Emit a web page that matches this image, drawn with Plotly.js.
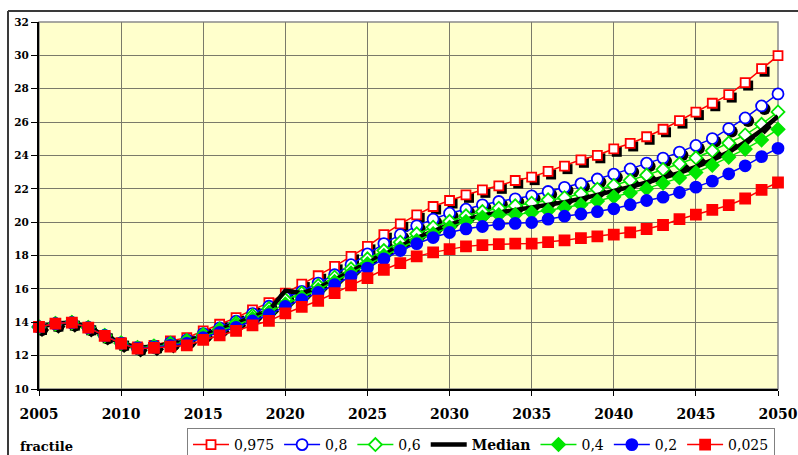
<!DOCTYPE html>
<html><head><meta charset="utf-8">
<script src="https://cdn.plot.ly/plotly-3.0.1.min.js"></script>
<style>html,body{margin:0;padding:0;background:#fff}#chart{width:798px;height:455px}</style>
</head><body><div id="chart"></div>
<script>
const years = [2005,2006,2007,2008,2009,2010,2011,2012,2013,2014,2015,2016,2017,2018,2019,2020,2021,2022,2023,2024,2025,2026,2027,2028,2029,2030,2031,2032,2033,2034,2035,2036,2037,2038,2039,2040,2041,2042,2043,2044,2045,2046,2047,2048,2049,2050];
const xTickVals = [2005,2010,2015,2020,2025,2030,2035,2040,2045,2050];
const yTickVals = [10,12,14,16,18,20,22,24,26,28,30,32];

const p975 = [13.72,13.92,13.98,13.70,13.22,12.78,12.52,12.62,12.88,13.08,13.48,13.88,14.28,14.74,15.18,15.75,16.29,16.79,17.35,17.95,18.55,19.25,19.90,20.44,20.94,21.30,21.64,21.94,22.18,22.50,22.70,23.04,23.36,23.74,24.01,24.40,24.72,25.12,25.57,26.09,26.60,27.13,27.65,28.37,29.20,29.98];
const p80 = [13.72,13.92,13.98,13.70,13.21,12.77,12.50,12.59,12.78,12.95,13.32,13.67,14.06,14.52,14.96,15.50,15.85,16.35,16.85,17.45,18.10,18.72,19.25,19.78,20.18,20.54,20.78,21.04,21.24,21.40,21.58,21.84,22.09,22.31,22.59,22.88,23.19,23.54,23.84,24.20,24.60,25.01,25.61,26.25,26.97,27.69];
const p60 = [13.72,13.92,13.98,13.69,13.21,12.76,12.49,12.57,12.74,12.90,13.26,13.60,13.97,14.40,14.82,15.35,15.75,16.20,16.70,17.20,17.80,18.30,18.80,19.30,19.70,20.05,20.38,20.64,20.84,20.98,21.14,21.34,21.47,21.70,21.98,22.20,22.50,22.82,23.16,23.50,23.86,24.28,24.74,25.23,25.87,26.61];
const median = [13.72,13.92,13.98,13.69,13.20,12.76,12.48,12.55,12.70,12.84,13.20,13.55,13.90,14.30,14.70,15.90,15.75,16.05,16.55,17.05,17.60,18.10,18.60,19.05,19.45,19.85,20.15,20.40,20.57,20.72,20.88,21.02,21.20,21.40,21.62,21.87,22.12,22.38,22.66,22.96,23.32,23.72,24.20,24.80,25.50,26.35];
const p40 = [13.72,13.92,13.98,13.69,13.20,12.75,12.47,12.53,12.67,12.80,13.15,13.50,13.82,14.22,14.60,15.10,15.50,15.95,16.45,16.95,17.50,18.00,18.45,18.90,19.30,19.70,20.04,20.30,20.44,20.46,20.58,20.70,20.88,21.05,21.27,21.52,21.76,22.01,22.34,22.66,22.98,23.42,23.90,24.38,24.93,25.57];
const p20 = [13.72,13.92,13.98,13.68,13.20,12.74,12.45,12.50,12.62,12.74,13.08,13.40,13.70,14.08,14.45,14.95,15.35,15.79,16.25,16.75,17.25,17.80,18.30,18.71,19.08,19.38,19.60,19.74,19.88,19.93,19.98,20.18,20.36,20.49,20.63,20.80,21.05,21.30,21.50,21.78,22.10,22.46,22.90,23.38,23.93,24.43];
const p025 = [13.72,13.92,13.98,13.68,13.18,12.72,12.42,12.46,12.54,12.62,12.94,13.22,13.48,13.82,14.08,14.53,14.92,15.29,15.75,16.21,16.65,17.15,17.55,17.95,18.19,18.39,18.55,18.63,18.69,18.71,18.72,18.80,18.91,19.05,19.15,19.25,19.39,19.59,19.83,20.18,20.45,20.74,21.02,21.42,21.94,22.38];

const seriesNames = ['0,975','0,8','0,6','<b>Median</b>','0,4','0,2','0,025'];

const series = [
  {name: seriesNames[0], y: p975, color: '#FF0000', symbol: 'square', fill: '#FFFFFF', size: 9, shadow: true},
  {name: seriesNames[1], y: p80, color: '#0000FF', symbol: 'circle', fill: '#FFFFFF', size: 11, shadow: true},
  {name: seriesNames[2], y: p60, color: '#00E600', symbol: 'diamond', fill: '#FFFFFF', size: 10, shadow: true},
  {name: seriesNames[3], y: median, color: '#000000', symbol: null, size: 0, shadow: false, width: 4.5},
  {name: seriesNames[4], y: p40, color: '#00E600', symbol: 'diamond', fill: '#00E600', size: 10, shadow: false},
  {name: seriesNames[5], y: p20, color: '#0000FF', symbol: 'circle', fill: '#0000FF', size: 11, shadow: false},
  {name: seriesNames[6], y: p025, color: '#FF0000', symbol: 'square', fill: '#FF0000', size: 10, shadow: false}
];

const SERIF = 'DejaVu Serif';

const traces = [];
series.forEach(s => {
  if (s.shadow) {
    traces.push({
      x: years, y: s.y, xaxis: 'x', yaxis: 'y', type: 'scatter', mode: 'markers',
      showlegend: false, hoverinfo: 'skip', cliponaxis: false,
      marker: {symbol: s.symbol, size: s.size + 1, color: '#000000', line: {width: 0}}
    });
  }
});
series.forEach(s => {
  const t = {
    x: years, y: s.y, xaxis: 'x2', yaxis: 'y2', type: 'scatter', name: s.name,
    cliponaxis: false,
    line: {color: s.color, width: s.width || 1.5}
  };
  if (s.symbol) {
    t.mode = 'lines+markers';
    t.marker = {symbol: s.symbol, size: s.size, color: s.fill, line: {color: s.color, width: 1.8}};
  } else {
    t.mode = 'lines';
  }
  traces.push(t);
});

const PW = 739, PH = 367;
const dxYears = 3 * 45 / PW, dyVal = 3 * 22 / PH;
const tickFontX = {family: SERIF, size: 14, color: '#000', weight: 'bold'};
const tickFontY = {family: SERIF, size: 10.5, color: '#000', weight: 'bold'};

const layout = {
  width: 798, height: 455,
  margin: {l: 39, r: 20, t: 22, b: 66, autoexpand: false},
  font: {family: SERIF, color: '#000'},
  paper_bgcolor: '#FFFFFF',
  plot_bgcolor: '#FFFFCC',
  showlegend: true,
  xaxis: {range: [2005 - dxYears, 2050 - dxYears], visible: false, fixedrange: true},
  yaxis: {range: [10 + dyVal, 32 + dyVal], visible: false, fixedrange: true},
  xaxis2: {
    overlaying: 'x', range: [2005, 2050], tickvals: xTickVals, ticktext: xTickVals.map(String),
    showgrid: true, gridcolor: '#7a7a6a', gridwidth: 1, zeroline: false,
    showline: true, linecolor: '#000000', linewidth: 2,
    ticks: 'outside', ticklen: 5, tickcolor: '#000', tickwidth: 1,
    tickfont: tickFontX, side: 'bottom', anchor: 'y2', automargin: false, ticklabelstandoff: 6
  },
  yaxis2: {
    overlaying: 'y', range: [10, 32], tickvals: yTickVals, ticktext: yTickVals.map(String),
    showgrid: true, gridcolor: '#7a7a6a', gridwidth: 1, zeroline: false,
    showline: true, linecolor: '#000000', linewidth: 2,
    ticks: 'outside', ticklen: 6, tickcolor: '#000', tickwidth: 1,
    tickfont: tickFontY, side: 'left', anchor: 'x2', automargin: false
  },
  legend: {
    orientation: 'h', x: (187 - 39) / PW, y: (389 - 428) / PH, xanchor: 'left', yanchor: 'top',
    bgcolor: '#FFFFFF', bordercolor: '#808080', borderwidth: 1,
    font: {family: SERIF, size: 14, color: '#000'},
    itemwidth: 36,
    traceorder: 'normal', itemclick: false
  },
  annotations: [{
    xref: 'paper', yref: 'paper', x: (18 - 39) / PW, y: (389 - 446) / PH, xanchor: 'left', yanchor: 'middle',
    text: '<b>fractile</b>', showarrow: false,
    font: {family: SERIF, size: 13, color: '#000'}
  }],
  shapes: [
    {type: 'rect', xref: 'paper', yref: 'paper', x0: 0, x1: 1, y0: 0, y1: 1, line: {color: '#8a8a8a', width: 1.5}, layer: 'between'},
    {type: 'line', xref: 'paper', yref: 'paper', x0: (8 - 39) / PW, x1: 1.2, y0: (389 - 11) / PH, y1: (389 - 11) / PH, line: {color: '#3a3a3a', width: 2}},
    {type: 'line', xref: 'paper', yref: 'paper', x0: (8 - 39) / PW, x1: (8 - 39) / PW, y0: (389 - 11) / PH, y1: -0.4, line: {color: '#3a3a3a', width: 2}}
  ]
};

Plotly.newPlot('chart', traces, layout, {displayModeBar: false, staticPlot: true});
</script>
</body></html>
